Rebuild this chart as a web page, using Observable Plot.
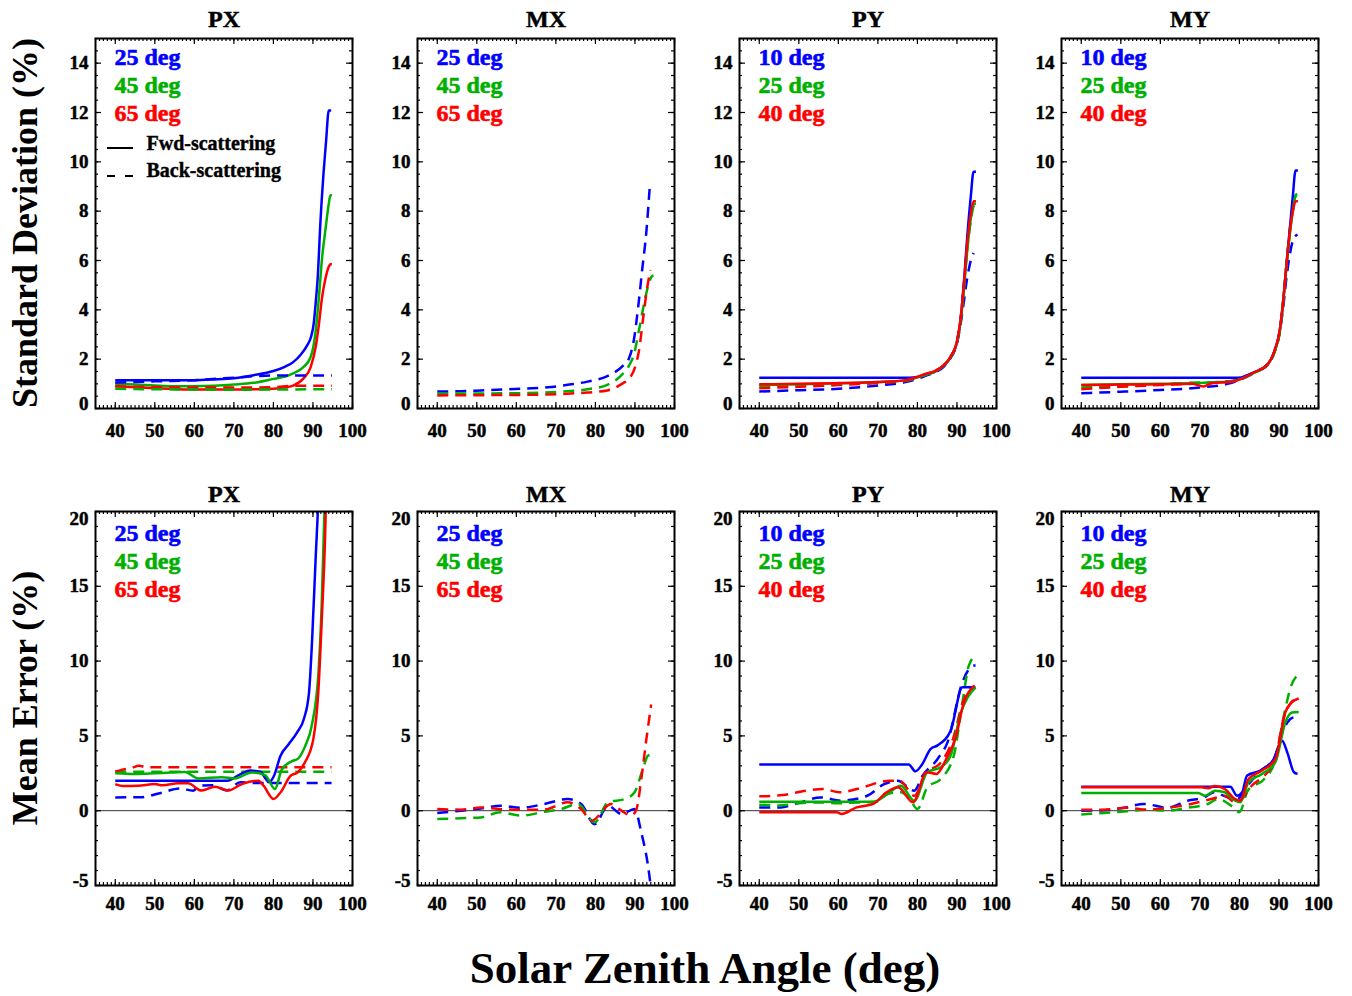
<!DOCTYPE html>
<html><head><meta charset="utf-8">
<script src="https://cdn.jsdelivr.net/npm/d3@7"></script>
<script src="https://cdn.jsdelivr.net/npm/@observablehq/plot@0.6"></script>
<style>
body{margin:0;background:#fff;}
#root{position:relative;width:1352px;height:996px;overflow:hidden;font-family:"Liberation Serif","Times New Roman",serif;font-weight:bold;color:#000;}
.rot{position:absolute;transform:translate(-50%,-50%) rotate(-90deg);white-space:nowrap;font-size:36px;}
.xt{position:absolute;transform:translate(-50%,-50%);white-space:nowrap;font-size:45px;}
.ls{position:absolute;height:0;border-top:2px solid #000;}
</style></head>
<body><div id="root"></div>
<script>
// ---------------- data ----------------
const panelTitles = ["PX", "MX", "PY", "MY"];
const anglesX = ["25 deg", "45 deg", "65 deg"];
const anglesY = ["10 deg", "25 deg", "40 deg"];
const xLabels = [40, 50, 60, 70, 80, 90, 100];
const sdLabels = [0, 2, 4, 6, 8, 10, 12, 14];
const meLabels = [-5, 0, 5, 10, 15, 20];

// Standard deviation, PX (fwd = solid, back = dashed)
const sdPX_a_fwd = [[40,1.15],[50,1.15],[60,1.15],[65,1.18],[70,1.23],[75,1.35],[80,1.52],[83,1.7],[85,1.88],[87,2.2],[88.5,2.55],[89.5,2.9],[90.2,3.45],[90.7,4.3],[91.2,5.3],[91.9,7.6],[92.7,9.6],[93.3,10.8],[94,12.08],[94.6,12.08]];
const sdPX_b_fwd = [[40,1.0],[45,0.97],[50,0.93],[55,0.9],[60,0.9],[65,0.92],[70,0.97],[75,1.04],[80,1.2],[83,1.3],[85,1.42],[87.5,1.67],[89.4,2.08],[90.2,2.6],[90.7,3.16],[91.5,4.5],[92.3,6.1],[93.2,7.3],[94,8.3],[94.4,8.65],[94.8,8.65]];
const sdPX_c_fwd = [[40,0.9],[45,0.86],[50,0.82],[55,0.79],[60,0.77],[65,0.77],[70,0.77],[75,0.78],[80,0.8],[83,0.86],[85,0.93],[87.5,1.2],[89.4,1.67],[90.7,2.5],[91.5,3.4],[92.3,4.5],[93.2,5.3],[94,5.75],[94.4,5.85],[94.8,5.85]];
const sdPX_a_back = [[40,1.05],[50,1.1],[60,1.15],[70,1.25],[78,1.33],[85,1.34],[94.8,1.34]];
const sdPX_b_back = [[40,0.8],[50,0.78],[60,0.77],[70,0.76],[80,0.77],[94.8,0.78]];
const sdPX_c_back = [[40,0.9],[50,0.87],[60,0.85],[70,0.85],[80,0.86],[85,0.92],[94.8,0.92]];

// Standard deviation, MX (back only)
const sdMX_a_back = [[40,0.69],[46,0.7],[51,0.73],[57,0.77],[62,0.81],[68,0.86],[73,0.96],[78,1.09],[83,1.31],[87,1.74],[88.4,2.0],[89.7,2.76],[90.9,4.24],[91.8,5.59],[92.9,7.2],[93.7,8.9]];
const sdMX_b_back = [[40,0.6],[50,0.61],[60,0.62],[70,0.67],[78,0.78],[83,0.96],[87,1.42],[88.5,1.74],[89.8,2.23],[91,3.16],[92.3,4.24],[93.5,5.07],[94.2,5.35],[94.7,5.39]];
const sdMX_c_back = [[40,0.53],[50,0.54],[60,0.55],[70,0.58],[78,0.65],[83,0.73],[87,1.03],[88.5,1.2],[90,1.67],[91,2.33],[92.1,3.7],[93,4.8],[93.9,5.6]];

// Standard deviation, PY
const sdPY_a_fwd = [[40,1.25],[78,1.25],[80,1.28],[82,1.35],[84.2,1.47],[86.7,1.74],[88.4,2.08],[90.1,2.76],[90.9,3.57],[91.8,5.2],[92.6,6.96],[93.5,8.6],[94.2,9.6],[94.8,9.6]];
const sdPY_b_fwd = [[40,0.95],[50,0.98],[60,1.02],[70,1.07],[77,1.14],[80,1.26],[82,1.36],[84.2,1.47],[86.7,1.74],[88.4,2.08],[90.1,2.76],[90.9,3.5],[91.8,4.9],[92.6,6.4],[93.5,7.7],[94.2,8.3],[94.8,8.3]];
const sdPY_c_fwd = [[40,0.98],[50,1.0],[60,1.03],[70,1.07],[77,1.15],[80,1.28],[82,1.4],[84.2,1.5],[86.7,1.76],[88.4,2.1],[90.1,2.8],[90.9,3.6],[91.8,5.1],[92.6,6.7],[93.5,7.9],[94.2,8.4],[94.8,8.4]];
const sdPY_a_back = [[40,0.69],[50,0.74],[60,0.8],[70,0.93],[77,1.07],[80,1.2],[82,1.32],[84.2,1.45],[86.7,1.7],[88.4,2.05],[90.1,2.7],[90.9,3.4],[91.8,4.4],[92.6,5.3],[93.5,6.0],[94.2,6.3]];
const sdPY_b_back = [[40,0.89],[50,0.95],[60,1.0],[70,1.05],[77,1.12],[80,1.25],[82,1.38],[84.2,1.5],[86.7,1.76],[88.4,2.1],[90.1,2.8],[90.9,3.6],[91.8,5.0],[92.6,6.5],[93.5,7.6],[94.2,8.2],[94.6,8.25]];
const sdPY_c_back = [[40,0.82],[50,0.88],[60,0.95],[70,1.03],[77,1.12],[80,1.26],[82,1.38],[84.2,1.5],[86.7,1.76],[88.4,2.1],[90.1,2.8],[90.9,3.6],[91.8,5.1],[92.6,6.6],[93.5,7.9],[94.2,8.4],[94.6,8.45]];

// Standard deviation, MY
const sdMY_a_fwd = [[40,1.25],[79,1.25],[80.4,1.26],[82,1.35],[83.8,1.47],[87.2,1.8],[88.9,2.35],[90.2,3.16],[91,4.24],[91.9,5.86],[92.7,7.2],[93.5,8.6],[94.2,9.65],[94.8,9.65]];
const sdMY_b_fwd = [[40,0.95],[50,0.98],[60,1.0],[70,1.03],[75,1.07],[78,1.1],[80.4,1.2],[83.8,1.45],[87.2,1.8],[88.9,2.3],[90.2,3.1],[91,4.2],[91.9,5.8],[92.7,7.0],[93.5,8.0],[94.2,8.6],[94.6,8.65]];
const sdMY_c_fwd = [[40,0.95],[50,0.97],[60,0.98],[68,1.0],[70.9,0.89],[73,1.02],[78,1.08],[80.4,1.2],[83.8,1.47],[87.2,1.8],[88.9,2.35],[90.2,3.16],[91,4.24],[91.9,5.8],[92.7,7.1],[93.5,8.0],[94.2,8.4],[94.8,8.4]];
const sdMY_a_back = [[40,0.62],[50,0.68],[60,0.75],[70,0.85],[77,1.0],[80.4,1.18],[83.8,1.45],[87.2,1.78],[88.9,2.3],[90.2,3.1],[91,4.0],[91.9,5.3],[92.7,6.2],[93.5,6.8],[94.2,7.0],[94.7,7.05]];
const sdMY_b_back = [[40,0.85],[50,0.92],[60,0.98],[70,1.05],[75,1.05],[78,1.1],[80.4,1.2],[83.8,1.45],[87.2,1.8],[88.9,2.3],[90.2,3.1],[91,4.2],[91.9,5.8],[92.7,7.2],[93.5,8.2],[94.2,8.65],[94.6,8.7]];
const sdMY_c_back = [[40,0.78],[50,0.88],[60,0.95],[70,1.02],[75,1.08],[78,1.12],[80.4,1.22],[83.8,1.47],[87.2,1.8],[88.9,2.35],[90.2,3.16],[91,4.24],[91.9,5.8],[92.7,7.1],[93.5,8.0],[94.2,8.4],[94.8,8.45]];

// Mean error, PX
const mePX_a_fwd = [[40,2.0],[68.3,2.0],[71.7,2.45],[74.2,2.68],[76.7,2.6],[78,2.16],[78.8,1.9],[80.1,2.3],[81.8,3.68],[83.9,4.46],[86,5.24],[87.7,6.13],[89,7.9],[89.8,11.5],[90.7,17],[91.3,20.5],[91.6,23]];
const mePX_b_fwd = [[40,2.5],[45,2.45],[50,2.5],[54,2.55],[57.6,2.58],[61,2.16],[66.9,2.23],[70.3,2.16],[74.5,2.56],[77.9,2.38],[80.4,1.45],[82.1,2.75],[84.6,3.3],[86.3,3.5],[88,4.3],[89.7,5.7],[91.4,9.25],[92.2,13.7],[92.9,20],[93.2,23]];
const mePX_c_fwd = [[40,1.78],[42,1.65],[45.8,1.67],[50,1.78],[52,1.7],[55.9,1.83],[58.4,1.83],[61.8,1.35],[65.2,1.6],[68.6,1.35],[72,1.78],[76.2,2.0],[77.5,1.67],[80,0.78],[82.1,1.34],[84.2,2.3],[86.3,2.6],[88,3.25],[90.1,4.8],[91.4,8.14],[92.2,12.6],[93.1,18.6],[93.5,23]];
const mePX_a_back = [[40,0.89],[46.3,0.9],[51.3,1.17],[56.4,1.48],[59.7,1.34],[61.4,1.67],[64.8,1.7],[68.2,1.35],[71.6,1.9],[75,1.85],[94.7,1.85]];
const mePX_b_back = [[40,2.6],[94.7,2.6]];
const mePX_c_back = [[40,2.6],[42,2.75],[44,2.85],[46,3.0],[48,2.9],[94.7,2.9]];

// Mean error, MX (back only)
const meMX_a_back = [[40,-0.15],[46,0],[51,0.15],[56.1,0.33],[61.2,0.2],[67.1,0.45],[73,0.78],[76.4,0.45],[79.8,-0.9],[83.2,0.33],[86.6,-0.22],[89.9,0.11],[91.6,-1.45],[93.3,-3.68],[94.1,-5.3],[94.4,-6]];
const meMX_b_back = [[40,-0.56],[46,-0.5],[51,-0.45],[56,-0.11],[61.2,-0.33],[67.1,-0.07],[71.3,0.11],[75.5,0.45],[79.8,-0.78],[83.2,0.56],[87.4,0.78],[89.9,1.23],[92,2.79],[93.3,3.68],[95,3.79]];
const meMX_c_back = [[40,0.11],[46,0.07],[51,0.22],[56,0.1],[61,0.07],[67,0.07],[73,0.56],[76.4,0.11],[79,-0.67],[84,0.45],[86.6,0],[89.1,-0.33],[90.4,0.11],[91.6,2.12],[92.9,4.8],[94.1,7.1]];

// Mean error, PY
const mePY_a_fwd = [[40,3.08],[77.8,3.08],[79.5,2.63],[81.2,3.1],[83.3,4.12],[85,4.35],[88.4,5.35],[91.4,8.25],[93.5,8.25],[94.7,8.2]];
const mePY_b_fwd = [[40,0.6],[69,0.6],[72.4,1.1],[75.8,1.67],[79.2,0.67],[82.5,2.57],[85.9,2.9],[88.4,3.68],[91,6.57],[92.7,7.58],[94.7,8.25]];
const mePY_c_fwd = [[40,-0.11],[59.6,-0.11],[60.8,-0.22],[64.6,0.22],[68.8,0.45],[72.2,1.23],[75.1,1.56],[78.9,0.56],[82.3,2.57],[84.8,2.46],[87.3,3.46],[89.8,5.0],[91.5,7.0],[94.4,8.36]];
const mePY_a_back = [[40,0.22],[45.4,0.22],[49.6,0.49],[55.5,0.89],[60.6,0.67],[67.3,1.0],[71.6,1.78],[75,2.0],[79.2,1.34],[81.3,2.34],[85.1,3.46],[87.6,4.57],[91.4,8.6],[94.3,9.7],[94.7,9.7]];
const mePY_b_back = [[40,0.4],[45,0.35],[50,0.5],[55,0.55],[60,0.5],[65,0.55],[70,0.6],[72.4,1.12],[75.8,1.23],[78,0.8],[80,0.11],[82.5,1.56],[85.9,2.12],[89.2,3.68],[91.4,7.25],[93,9.7],[94.7,10.37]];
const mePY_c_back = [[40,0.96],[46,1.05],[51.9,1.34],[56.1,1.45],[60.3,1.23],[66.2,1.56],[70.4,1.9],[72.9,2.0],[75.5,2.0],[79.2,1.0],[82.2,2.57],[85.6,3.12],[89,4.8],[91.5,7.25],[94.5,8.36]];

// Mean error, MY
const meMY_a_fwd = [[40,1.6],[77.7,1.6],[79.4,1.0],[80.7,1.23],[81.9,2.34],[85.3,2.68],[88.7,3.46],[90.8,4.68],[92.1,3.9],[93.8,2.57],[94.7,2.46]];
const meMY_b_fwd = [[40,1.18],[69.6,1.18],[71.3,1.0],[73.8,1.34],[76.3,1.23],[78.9,0.67],[80.2,0.56],[82.3,1.9],[85.7,2.46],[89.1,3.24],[91.6,5.9],[93.3,6.57],[95,6.6]];
const meMY_c_fwd = [[40,1.56],[70.4,1.56],[72.1,1.5],[73.8,1.65],[76.3,1.45],[78.9,0.78],[80.2,0.67],[82.3,2.12],[85.7,2.68],[89.1,3.46],[91.6,6.57],[93.3,7.25],[95,7.5]];
const meMY_a_back = [[40,0],[44.9,0.02],[50.8,0.2],[55.9,0.45],[61.8,0.2],[66.9,0.67],[71.1,0.89],[73.6,1.23],[77,0.89],[79.5,0.78],[82,1.67],[85.4,2.68],[88.7,3.46],[91.2,5.46],[93.8,6.24],[94.7,6.24]];
const meMY_b_back = [[40,-0.25],[45.7,-0.15],[51.6,-0.04],[56.7,0.07],[61.8,0.0],[66.9,0.2],[72,0.45],[74.6,0.78],[77.9,0.33],[80,-0.1],[82.1,1.34],[86.3,2.12],[88.9,3.24],[91.4,6.57],[93.1,8.36],[94.8,9.1]];
const meMY_c_back = [[40,0.07],[45.7,0.07],[51.6,0.2],[56.7,0.07],[61.8,0.2],[67.8,0.45],[72.9,0.78],[76.3,1.0],[78.9,0.56],[80.6,0.78],[83.1,1.67],[86.3,2.34],[88.9,3.35],[91.4,6.35],[93.1,7.25],[94.8,7.5]];

// ---------------- drawing ----------------
const COL = ["#0000ff", "#00b000", "#ff0000"];
const FONT = '"Liberation Serif","Times New Roman",serif';
const root = document.getElementById("root");

function S(data, ci, dashed) { return {data, color: COL[ci], dashed}; }

function makePanel(o) {
  const mL = 60, mR = 25, mT = 35, mB = 40, innerW = 257;
  const width = mL + innerW + mR, height = mT + o.innerH + mB;
  const H = o.innerH;
  const [y0, y1] = o.yDomain;
  const marks = [];
  if (o.zero) marks.push(Plot.ruleY([0], {stroke: "#333", strokeWidth: 1}));
  for (const s of o.series) {
    marks.push(Plot.line(s.data, {x: d => d[0], y: d => d[1], stroke: s.color, strokeWidth: 2.5,
      strokeDasharray: s.dashed ? "11,7" : null, strokeLinecap: "butt", curve: "monotone-x", clip: true}));
  }
  const xMinor = d3.range(35, 101, 1), xMajor = d3.range(40, 101, 10);
  const yMinor = d3.range(y0, y1 + 1e-9, o.yMinorStep), yMajor = d3.range(y0, y1 + 1e-9, o.yMajorStep);
  const tk = {stroke: "#000", strokeWidth: 1.2};
  marks.push(Plot.tickX(xMinor, {x: d => d, insetTop: H - 3, ...tk}));
  marks.push(Plot.tickX(xMajor, {x: d => d, insetTop: H - 6, ...tk}));
  marks.push(Plot.tickX(xMinor, {x: d => d, insetBottom: H - 3, ...tk}));
  marks.push(Plot.tickX(xMajor, {x: d => d, insetBottom: H - 6, ...tk}));
  marks.push(Plot.tickY(yMinor, {y: d => d, insetRight: innerW - 3, ...tk}));
  marks.push(Plot.tickY(yMajor, {y: d => d, insetRight: innerW - 6, ...tk}));
  marks.push(Plot.tickY(yMinor, {y: d => d, insetLeft: innerW - 3, ...tk}));
  marks.push(Plot.tickY(yMajor, {y: d => d, insetLeft: innerW - 6, ...tk}));
  marks.push(Plot.frame({stroke: "#000", strokeWidth: 2}));
  // tick labels
  const tl = {fontSize: 19, fontWeight: "bold", fill: "#000", stroke: "#000", strokeWidth: 0.5};
  marks.push(Plot.text(xLabels, {x: d => d, frameAnchor: "bottom", dy: o.xLabDy, lineAnchor: "middle", ...tl}));
  const yl = o.yLabels;
  marks.push(Plot.text(yl.filter(v => v !== y0 && v !== y1), {y: d => d, frameAnchor: "left", dx: -7, textAnchor: "end", lineAnchor: "middle", ...tl}));
  marks.push(Plot.text(yl.filter(v => v === y0), {y: d => d, frameAnchor: "left", dx: -7, dy: -5, textAnchor: "end", lineAnchor: "middle", ...tl}));
  marks.push(Plot.text(yl.filter(v => v === y1), {y: d => d, frameAnchor: "left", dx: -7, dy: 7, textAnchor: "end", lineAnchor: "middle", ...tl}));
  // title
  marks.push(Plot.text([o.title], {frameAnchor: "top", dy: o.titleDy, lineAnchor: "middle", fontSize: 24, fontWeight: "bold", fill: "#000", stroke: "#000", strokeWidth: 0.5}));
  // angle legend
  o.angles.forEach((a, i) => {
    marks.push(Plot.text([a], {frameAnchor: "top-left", dx: 19, dy: o.legDy + 28 * i, textAnchor: "start", lineAnchor: "middle",
      fontSize: 24, fontWeight: "bold", fill: COL[i], stroke: COL[i], strokeWidth: 0.6}));
  });
  if (o.styleLegend) {
    marks.push(Plot.text(["Fwd-scattering"], {frameAnchor: "top-left", dx: 51, dy: 105, textAnchor: "start", lineAnchor: "middle", fontSize: 20, fontWeight: "bold", fill: "#000", stroke: "#000", strokeWidth: 0.4}));
    marks.push(Plot.text(["Back-scattering"], {frameAnchor: "top-left", dx: 51, dy: 132, textAnchor: "start", lineAnchor: "middle", fontSize: 20, fontWeight: "bold", fill: "#000", stroke: "#000", strokeWidth: 0.4}));
  }
  const chart = Plot.plot({
    width, height, marginLeft: mL, marginRight: mR, marginTop: mT, marginBottom: mB,
    x: {domain: [35, 100], axis: null},
    y: {domain: o.yDomain, axis: null},
    style: {fontFamily: FONT, fontWeight: "bold", fontSize: "19px", background: "transparent", overflow: "visible"},
    marks
  });
  chart.style.position = "absolute";
  chart.style.left = (o.left - mL) + "px";
  chart.style.top = (o.top - mT) + "px";
  root.appendChild(chart);
}

const lefts = [95, 417, 739, 1061];
const sdSeries = [
  [S(sdPX_a_fwd,0,false),S(sdPX_b_fwd,1,false),S(sdPX_c_fwd,2,false),S(sdPX_a_back,0,true),S(sdPX_c_back,2,true),S(sdPX_b_back,1,true)],
  [S(sdMX_a_back,0,true),S(sdMX_b_back,1,true),S(sdMX_c_back,2,true)],
  [S(sdPY_a_back,0,true),S(sdPY_b_back,1,true),S(sdPY_c_back,2,true),S(sdPY_a_fwd,0,false),S(sdPY_b_fwd,1,false),S(sdPY_c_fwd,2,false)],
  [S(sdMY_a_back,0,true),S(sdMY_b_back,1,true),S(sdMY_c_back,2,true),S(sdMY_a_fwd,0,false),S(sdMY_b_fwd,1,false),S(sdMY_c_fwd,2,false)]
];
const meSeries = [
  [S(mePX_a_back,0,true),S(mePX_b_back,1,true),S(mePX_c_back,2,true),S(mePX_a_fwd,0,false),S(mePX_b_fwd,1,false),S(mePX_c_fwd,2,false)],
  [S(meMX_a_back,0,true),S(meMX_b_back,1,true),S(meMX_c_back,2,true)],
  [S(mePY_a_back,0,true),S(mePY_b_back,1,true),S(mePY_c_back,2,true),S(mePY_a_fwd,0,false),S(mePY_b_fwd,1,false),S(mePY_c_fwd,2,false)],
  [S(meMY_a_back,0,true),S(meMY_b_back,1,true),S(meMY_c_back,2,true),S(meMY_a_fwd,0,false),S(meMY_b_fwd,1,false),S(meMY_c_fwd,2,false)]
];

for (let i = 0; i < 4; i++) {
  const angles = i < 2 ? anglesX : anglesY;
  makePanel({left: lefts[i], top: 38, innerH: 370, yDomain: [0, 15], yMajorStep: 2, yMinorStep: 0.5,
    yLabels: sdLabels, title: panelTitles[i], titleDy: -19, angles, legDy: 19, series: sdSeries[i],
    zero: false, xLabDy: 22, styleLegend: i === 0});
  makePanel({left: lefts[i], top: 511, innerH: 374, yDomain: [-5, 20], yMajorStep: 5, yMinorStep: 1,
    yLabels: meLabels, title: panelTitles[i], titleDy: -17, angles, legDy: 22, series: meSeries[i],
    zero: true, xLabDy: 18, styleLegend: false});
}

// line-style legend samples (panel 1)
function seg(l, t, w) { const d = document.createElement("div"); d.className = "ls"; d.style.left = l + "px"; d.style.top = t + "px"; d.style.width = w + "px"; root.appendChild(d); }
seg(107, 147, 26);
seg(107, 175, 8); seg(125, 175, 8);

// axis titles
function lab(cls, text, x, y) { const d = document.createElement("div"); d.className = cls; d.textContent = text; d.style.left = x + "px"; d.style.top = y + "px"; root.appendChild(d); }
lab("rot", "Standard Deviation (%)", 25, 223);
lab("rot", "Mean Error (%)", 25, 698);
lab("xt", "Solar Zenith Angle (deg)", 705, 968);
</script>
</body></html>
